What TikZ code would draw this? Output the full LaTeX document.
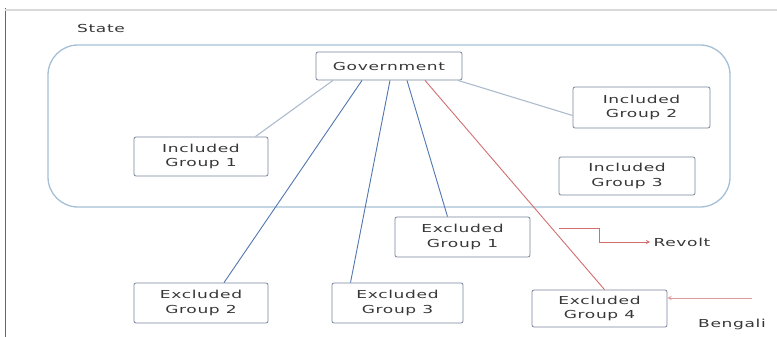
\documentclass[tikz,border=0pt]{standalone}
\usepackage{fontspec}
\newfontfamily\boxfont[FakeStretch=1.55,LetterSpace=6]{DejaVu Sans}
\usepackage{tikz}
\usetikzlibrary{arrows}

\definecolor{statecol}{RGB}{165,192,214}
\definecolor{boxcol}{RGB}{118,132,156}
\definecolor{incol}{RGB}{172,188,206}
\definecolor{excol}{RGB}{80,118,176}
\definecolor{revcol}{RGB}{210,110,110}
\definecolor{txtcol}{RGB}{55,55,55}

\begin{document}
\begin{tikzpicture}[x=1pt, y=-1pt,
  grp/.style={draw=boxcol, line width=0.8pt, rounded corners=2pt, align=center,
    text=txtcol, font=\boxfont\fontsize{11}{14.5}\selectfont, inner sep=0pt},
  lbl/.style={text=txtcol, font=\boxfont\fontsize{11}{14.5}\selectfont},
  inline/.style={incol, line width=1.1pt},
  exline/.style={excol, line width=0.9pt},
  redline/.style={revcol, line width=0.9pt}]

%% Page and frame
\useasboundingbox (0,0) rectangle (777,337);
\draw[black!60, line width=0.8pt] (5,8)--(5,337);
\draw[black!15, line width=1.2pt] (5,10)--(777,10);

%% State
\node[lbl] (state) at (101,28) {State};
\draw[statecol, line width=1.3pt, rounded corners=30pt] (48,45) rectangle (730,207);

%% Groups
\node[grp, minimum width=146pt, minimum height=28pt] (gov) at (389,66) {Government};
\node[grp, minimum width=134pt, minimum height=39pt] (ig1) at (201,156.5) {Included\\Group 1};
\node[grp, minimum width=137pt, minimum height=41pt] (ig2) at (641.5,107.5) {Included\\Group 2};
\node[grp, minimum width=136pt, minimum height=38pt] (ig3) at (627,176) {Included\\Group 3};
\node[grp, minimum width=135pt, minimum height=40pt] (eg1) at (462.5,237) {Excluded\\Group 1};
\node[grp, minimum width=134pt, minimum height=40pt] (eg2) at (201,303) {Excluded\\Group 2};
\node[grp, minimum width=131pt, minimum height=40pt] (eg3) at (397.5,303) {Excluded\\Group 3};
\node[grp, minimum width=135pt, minimum height=37pt] (eg4) at (599.5,308.5) {Excluded\\Group 4};

%% Links
\draw[inline] ([xshift=-56pt]gov.south) -- ([xshift=-13pt]ig1.north east);
\draw[inline] ([xshift=69pt]gov.south) -- ([yshift=-8pt]ig2.west);
\draw[exline] ([xshift=-27pt]gov.south) -- ([xshift=23pt]eg2.north);
\draw[exline] ([xshift=1pt]gov.south) -- ([xshift=-47pt]eg3.north);
\draw[exline] ([xshift=18pt]gov.south) -- ([xshift=-15pt]eg1.north);
\draw[redline] ([xshift=36pt]gov.south) -- ([xshift=5pt]eg4.north) coordinate[pos=0.71] (rv);

%% Revolt
\node[lbl] (revolt) at (682,242) {Revolt};
\draw[redline, -stealth] ([xshift=7pt]rv) -- ++(40,0) |- (revolt.west);

%% Bengali
\node[lbl] (bengali) at (732,324) {Bengali};
\coordinate (bsrc) at (752,298);
\draw[revcol!70, line width=0.9pt, -stealth] (bsrc) -- (bsrc -| eg4.east);

\end{tikzpicture}
\end{document}
